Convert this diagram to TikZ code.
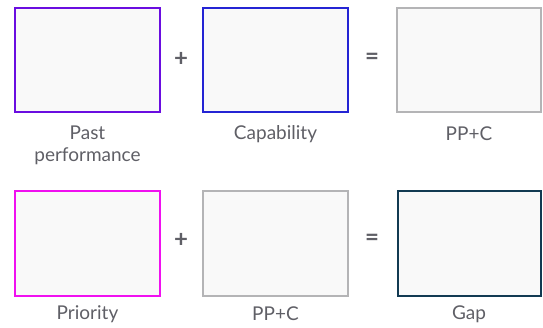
\documentclass[tikz,border=0pt]{standalone}
\usepackage{fontspec}
\setmainfont{Lato}
\definecolor{pastc}{HTML}{6A0DE0}
\definecolor{capc}{HTML}{2424D4}
\definecolor{neutralc}{HTML}{B4B4B6}
\definecolor{prioc}{HTML}{F010F0}
\definecolor{gapc}{HTML}{123A52}
\definecolor{boxfill}{HTML}{F9F9F9}
\definecolor{labelc}{HTML}{5F5F66}
\begin{document}
\begin{tikzpicture}[x=1pt,y=-1pt,
  panel/.style={draw=#1,line width=2.2pt,fill=boxfill},
  caption/.style={text=labelc,font=\fontsize{19}{22}\selectfont,align=center},
  opsign/.style={text=labelc,font=\bfseries\fontsize{24}{24}\selectfont}]
\useasboundingbox (0,0) rectangle (543,328);
% first row: past performance + capability = PP+C
\draw[panel=pastc] (15,8) rectangle (160,112);
\draw[panel=capc] (203,8) rectangle (348,112);
\draw[panel=neutralc] (397,8) rectangle (541,112);
\node[opsign] (plus1) at (181,59) {+};
\node[opsign] (eq1) at (372,59) {=};
\node[caption] (l1) at (87.5,145) {Past\\performance};
\node[caption] (l2) at (275.5,134) {Capability};
\node[caption] (l3) at (469,134) {PP+C};
% second row: priority + PP+C = gap
\draw[panel=prioc] (15,191) rectangle (160,296);
\draw[panel=neutralc] (203,191) rectangle (348,296);
\draw[panel=gapc] (398,191) rectangle (541,296);
\node[opsign] (plus2) at (181,240) {+};
\node[opsign] (eq2) at (372,240) {=};
\node[caption] (l4) at (87.5,314) {Priority};
\node[caption] (l5) at (275.5,314) {PP+C};
\node[caption] (l6) at (469,314) {Gap};
\end{tikzpicture}
\end{document}
